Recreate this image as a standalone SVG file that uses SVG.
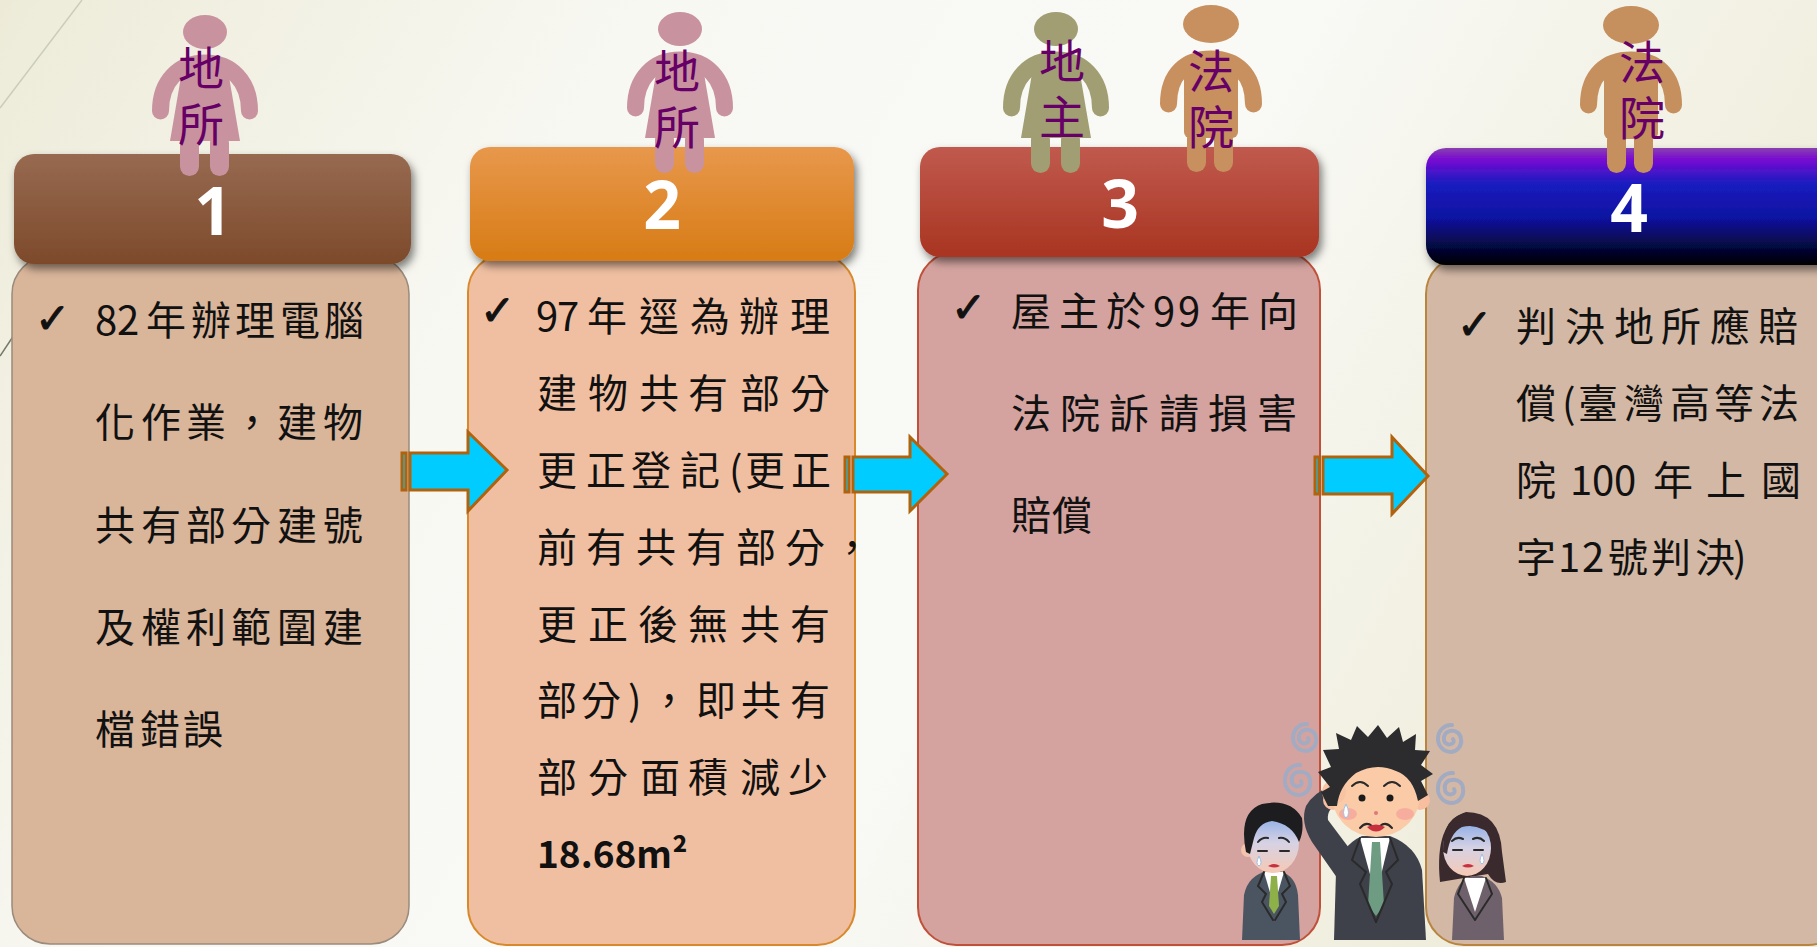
<svg xmlns="http://www.w3.org/2000/svg" width="1817" height="947" viewBox="0 0 1817 947">
  <defs>
    <linearGradient id="bg" x1="0" y1="0" x2="1" y2="0.3">
      <stop offset="0" stop-color="#EDEBD8"/>
      <stop offset="0.33" stop-color="#F8F8F3"/>
      <stop offset="0.66" stop-color="#F9F9F6"/>
      <stop offset="1" stop-color="#EFEDDB"/>
    </linearGradient>
    <linearGradient id="h1" x1="0" y1="0" x2="0" y2="1">
      <stop offset="0" stop-color="#976A51"/>
      <stop offset="1" stop-color="#7D4A2B"/>
    </linearGradient>
    <linearGradient id="h2" x1="0" y1="0" x2="0" y2="1">
      <stop offset="0" stop-color="#E8984C"/>
      <stop offset="1" stop-color="#D77B15"/>
    </linearGradient>
    <linearGradient id="h3" x1="0" y1="0" x2="0" y2="1">
      <stop offset="0" stop-color="#C05A4E"/>
      <stop offset="1" stop-color="#A93421"/>
    </linearGradient>
    <linearGradient id="h4" x1="0" y1="0" x2="0" y2="1">
      <stop offset="0" stop-color="#8A40B0"/>
      <stop offset="0.1" stop-color="#780AD2"/>
      <stop offset="0.3" stop-color="#1A1CC0"/>
      <stop offset="0.6" stop-color="#0E12A0"/>
      <stop offset="1" stop-color="#000000"/>
    </linearGradient>
    <linearGradient id="paleface" x1="0" y1="0" x2="0" y2="1">
      <stop offset="0" stop-color="#86A9E6"/>
      <stop offset="0.5" stop-color="#D6D2E4"/>
      <stop offset="1" stop-color="#F6C9B4"/>
    </linearGradient>
    <filter id="hshadow" x="-5%" y="-10%" width="115%" height="135%">
      <feDropShadow dx="3" dy="5" stdDeviation="4" flood-color="#000" flood-opacity="0.5"/>
    </filter>
    <!-- pictogram of a woman, origin at top-centre of the head -->
    <g id="woman">
      <ellipse cx="0" cy="17" rx="22" ry="17" fill="currentColor"/>
      <path d="M -44.5 96 C -44.5 66 -26 48 0 48 C 26 48 44.5 66 44.5 96" fill="none" stroke="currentColor" stroke-width="17" stroke-linecap="round"/>
      <path d="M -22 50 L 22 50 L 35 126 L -35 126 Z" fill="currentColor"/>
      <rect x="-25" y="118" width="19" height="43" rx="9.5" fill="currentColor"/>
      <rect x="5" y="118" width="19" height="43" rx="9.5" fill="currentColor"/>
    </g>
    <!-- pictogram of a man, origin at top-centre of the head -->
    <g id="man">
      <ellipse cx="0" cy="20" rx="28" ry="19" fill="currentColor"/>
      <path d="M -42.5 100 C -42.5 70 -25 55 0 55 C 25 55 42.5 70 42.5 100" fill="none" stroke="currentColor" stroke-width="17" stroke-linecap="round"/>
      <rect x="-27" y="52" width="54" height="82" rx="6" fill="currentColor"/>
      <rect x="-24" y="125" width="19" height="43" rx="9.5" fill="currentColor"/>
      <rect x="3" y="125" width="19" height="43" rx="9.5" fill="currentColor"/>
    </g>
  </defs>
  <style>
    .num { font-family: "Open Sans", "Liberation Sans", sans-serif; font-weight: 700; font-size: 66px; fill: #FFFFFF; text-anchor: middle; }
    .who { font-family: "Noto Sans CJK TC", "Noto Sans CJK SC", sans-serif; font-size: 46px; fill: #660066; writing-mode: vertical-rl; letter-spacing: 10px; }
    .bt { font-family: "Noto Sans CJK TC", "Noto Sans CJK SC", sans-serif; font-size: 40px; fill: #111111; }
    .tick { font-family: "DejaVu Sans", sans-serif; font-weight: 700; font-size: 42px; fill: #111111; stroke: #111111; stroke-width: 1; }
    .head { filter: url(#hshadow); }
    .arrow { fill: #00CCFF; stroke: #B0620C; stroke-width: 3; }
    .swirl { fill: none; stroke: #A3ABC3; stroke-width: 4; stroke-linecap: round; }
    .ink { fill: none; stroke: #2A2A2A; stroke-width: 2; stroke-linecap: round; }
  </style>

  <!-- background -->
  <rect x="0" y="0" width="1817" height="947" fill="url(#bg)"/>
  <line x1="0" y1="108" x2="82" y2="0" stroke="#CACDBA" stroke-width="1.5"/>
  <line x1="0" y1="356" x2="16" y2="332" stroke="#737A66" stroke-width="1.5"/>

  <!-- step 1 -->
  <g id="step1">
    <rect x="12" y="256" width="397" height="688" rx="38" fill="#D9B59A" stroke="#9A8B7C" stroke-width="1.5"/>
    <rect class="head" x="14" y="154" width="397" height="110" rx="20" fill="url(#h1)"/>
    <text class="num" x="213" y="235">1</text>
    <use href="#woman" x="205" y="15" style="color:#C8939F"/>
    <text class="who" x="201" y="45">地所</text>
    <text class="tick" x="35" y="333">✓</text>
    <text class="bt" x="95 117 146 191 235 280 324" y="335">82年辦理電腦</text>
    <text class="bt" x="95 141 186 232 277 323" y="437">化作業，建物</text>
    <text class="bt" x="95 141 186 231 277 323" y="540">共有部分建號</text>
    <text class="bt" x="95 141 186 231 277 323" y="642">及權利範圍建</text>
    <text class="bt" x="95 140 183" y="744">檔錯誤</text>
  </g>

  <!-- step 2 -->
  <g id="step2">
    <rect x="468" y="254" width="387" height="691" rx="38" fill="#F0BFA1" stroke="#D8892C" stroke-width="2"/>
    <rect class="head" x="470" y="147" width="384" height="114" rx="20" fill="url(#h2)"/>
    <text class="num" x="662" y="229">2</text>
    <use href="#woman" x="680" y="12" style="color:#C8939F"/>
    <text class="who" x="677" y="48">地所</text>
    <text class="tick" x="480" y="325">✓</text>
    <text class="bt" x="536 557 587 639 690 739 790" y="331">97年逕為辦理</text>
    <text class="bt" x="537 588 639 688 740 790" y="408">建物共有部分</text>
    <text class="bt" x="537 586 631 680 729 745 791" y="485">更正登記(更正</text>
    <text class="bt" x="537 586 636 686 736 785 832" y="562">前有共有部分，</text>
    <text class="bt" x="537 588 638 688 740 790" y="639">更正後無共有</text>
    <text class="bt" x="537 581 628 649 696 741 790" y="715">部分)，即共有</text>
    <text class="bt" x="537 588 640 688 740 788" y="792">部分面積減少</text>
    <text class="bt" x="537" y="868" style="font-size:37px;font-weight:700">18.68m²</text>
  </g>

  <!-- step 3 -->
  <g id="step3">
    <rect x="918" y="252" width="402" height="693" rx="38" fill="#D4A39F" stroke="#C0503A" stroke-width="2"/>
    <rect class="head" x="920" y="147" width="399" height="110" rx="20" fill="url(#h3)"/>
    <text class="num" x="1120" y="228">3</text>
    <use href="#woman" x="1056" y="12" style="color:#A09E72"/>
    <use href="#man" x="1211" y="4" style="color:#C8905E"/>
    <text class="who" x="1062" y="38">地主</text>
    <text class="who" x="1211" y="48">法院</text>
    <text class="tick" x="951" y="322">✓</text>
    <text class="bt" x="1011 1059 1106 1153 1178 1210 1258" y="326">屋主於99年向</text>
    <text class="bt" x="1011 1060 1109 1159 1208 1257" y="428">法院訴請損害</text>
    <text class="bt" x="1011 1052" y="530">賠償</text>
  </g>

  <!-- step 4 -->
  <g id="step4">
    <rect x="1426" y="256" width="420" height="689" rx="38" fill="#D3B8A5" stroke="#B8843E" stroke-width="2"/>
    <rect class="head" x="1426" y="148" width="420" height="117" rx="20" fill="url(#h4)"/>
    <text class="num" x="1629" y="232">4</text>
    <use href="#man" x="1631" y="5" style="color:#C58F5E"/>
    <text class="who" x="1642" y="39">法院</text>
    <text class="tick" x="1457" y="339">✓</text>
    <text class="bt" x="1516 1565 1614 1661 1710 1758" y="341">判決地所應賠</text>
    <text class="bt" x="1516 1562 1578 1624 1670 1714 1759" y="418">償(臺灣高等法</text>
    <text class="bt" x="1516 1570 1592 1614 1653 1706 1761" y="495">院100年上國</text>
    <text class="bt" x="1516 1558 1582 1608 1651 1695 1733" y="572">字12號判決)</text>
  </g>

  <!-- connectors: striped block arrows -->
  <g id="connectors">
    <rect class="arrow" x="402" y="453" width="4" height="37"/>
    <path class="arrow" d="M 410 453 L 468 453 L 468 432 L 507 470 L 468 511 L 468 490 L 410 490 Z"/>
    <rect class="arrow" x="845" y="457" width="4" height="35"/>
    <path class="arrow" d="M 853 457 L 910 457 L 910 437 L 947 474 L 910 511 L 910 492 L 853 492 Z"/>
    <rect class="arrow" x="1315" y="457" width="4" height="37"/>
    <path class="arrow" d="M 1323 457 L 1392 457 L 1392 437 L 1428 476 L 1392 514 L 1392 494 L 1323 494 Z"/>
  </g>

  <!-- worried office workers -->
  <g id="workers">
    <!-- swirls -->
    <path class="swirl" d="M 1307 724 A 13 14 0 0 0 1293 738 A 13 13 0 0 0 1306 751 A 11 11 0 0 0 1316 738 A 9 9 0 0 0 1305 730 A 7 7 0 0 0 1299 738 A 5 5 0 0 0 1306 743 A 3 3 0 0 0 1308 738"/>
    <path class="swirl" d="M 1300 765 A 14 15 0 0 0 1285 780 A 14 14 0 0 0 1299 795 A 12 12 0 0 0 1310 781 A 9 9 0 0 0 1299 772 A 7 7 0 0 0 1292 781 A 5 5 0 0 0 1299 786 A 3 3 0 0 0 1301 781"/>
    <path class="swirl" d="M 1452 725 A 13 14 0 0 0 1438 739 A 13 13 0 0 0 1451 752 A 11 11 0 0 0 1461 739 A 9 9 0 0 0 1450 731 A 7 7 0 0 0 1444 739 A 5 5 0 0 0 1451 744 A 3 3 0 0 0 1453 739"/>
    <path class="swirl" d="M 1453 773 A 14 15 0 0 0 1438 788 A 14 14 0 0 0 1452 803 A 12 12 0 0 0 1463 789 A 9 9 0 0 0 1452 780 A 7 7 0 0 0 1445 789 A 5 5 0 0 0 1452 794 A 3 3 0 0 0 1454 789"/>

    <!-- left man -->
    <path d="M 1242 940 L 1244 895 Q 1248 875 1268 871 L 1280 871 Q 1296 876 1298 895 L 1300 940 Z" fill="#4B5562"/>
    <path d="M 1264 872 L 1284 872 L 1274 906 Z" fill="#FFFFFF"/>
    <path d="M 1271 876 L 1277 876 L 1279 906 L 1274 914 L 1269 906 Z" fill="#8DB148"/>
    <path d="M 1264 872 L 1258 886 L 1266 894 L 1262 902 L 1273 920" class="ink" stroke="#343A44"/>
    <path d="M 1284 872 L 1290 886 L 1282 894 L 1286 902 L 1275 920" class="ink" stroke="#343A44"/>
    <circle cx="1248" cy="850" r="7" fill="#F3C3AE"/>
    <ellipse cx="1273" cy="843" rx="26" ry="30" fill="url(#paleface)"/>
    <path d="M 1246 852 Q 1238 812 1262 804 Q 1290 798 1302 818 Q 1304 832 1299 842 Q 1292 824 1272 821 Q 1258 823 1254 838 L 1250 854 Z" fill="#1D1D1F"/>
    <path d="M 1258 842 Q 1262 837 1268 838 M 1279 838 Q 1285 837 1289 842" class="ink"/>
    <path d="M 1258 851 L 1267 851 M 1280 851 L 1289 851" class="ink"/>
    <path d="M 1268 866 Q 1274 862 1280 866 Q 1274 869 1268 866 Z" fill="#C8303E"/>
    <path d="M 1259 856 Q 1255 864 1259 866 Q 1263 864 1259 856 Z" fill="#FFFFFF" stroke="#9CC0E8" stroke-width="1"/>

    <!-- centre man -->
    <path d="M 1334 940 L 1336 872 Q 1340 846 1362 836 L 1390 836 Q 1416 846 1422 870 L 1426 940 Z" fill="#3E4149"/>
    <path d="M 1340 882 L 1312 842 Q 1300 822 1306 806 Q 1314 792 1332 786 L 1342 802 Q 1326 808 1328 820 L 1352 852 Z" fill="#3E4149"/>
    <path d="M 1360 838 L 1390 838 L 1376 896 Z" fill="#FFFFFF"/>
    <path d="M 1372 842 L 1380 842 L 1384 905 L 1376 916 L 1368 905 Z" fill="#6E9C82"/>
    <path d="M 1360 838 L 1352 860 L 1366 872 L 1360 884 L 1376 922" class="ink" stroke="#2A2C31"/>
    <path d="M 1390 838 L 1398 860 L 1386 872 L 1392 884 L 1376 922" class="ink" stroke="#2A2C31"/>
    <circle cx="1333" cy="800" r="10" fill="#F7BFA0"/>
    <circle cx="1420" cy="800" r="10" fill="#F7BFA0"/>
    <ellipse cx="1376" cy="795" rx="44" ry="42" fill="#FACBA6"/>
    <circle cx="1334" cy="792" r="12" fill="#F7C3A2"/>
    <path d="M 1328 806 L 1321 792 L 1330 787 L 1318 772 L 1331 767 L 1323 750 L 1339 749 L 1336 733 L 1351 740 L 1357 726 L 1368 737 L 1378 725 L 1387 738 L 1399 727 L 1403 742 L 1416 734 L 1415 750 L 1430 751 L 1421 765 L 1433 774 L 1421 781 L 1428 795 L 1418 801 Q 1413 777 1396 771 Q 1376 762 1356 773 Q 1339 786 1337 806 Z" fill="#2C2C2E"/>
    <ellipse cx="1348" cy="814" rx="9" ry="6" fill="#F59A9A" opacity="0.6"/>
    <ellipse cx="1405" cy="814" rx="9" ry="6" fill="#F59A9A" opacity="0.6"/>
    <path d="M 1352 786 Q 1360 778 1368 786 M 1384 786 Q 1392 778 1400 786" class="ink" stroke="#3A2A20" stroke-width="2.5"/>
    <circle cx="1362" cy="798" r="3.5" fill="#1A1A1A"/>
    <circle cx="1390" cy="798" r="3.5" fill="#1A1A1A"/>
    <circle cx="1376" cy="813" r="2" fill="#E07878"/>
    <path d="M 1360 828 Q 1366 821 1372 826 M 1380 826 Q 1386 821 1392 828" class="ink" stroke="#A07850" stroke-width="3"/>
    <path d="M 1367 827 Q 1376 822 1385 827 Q 1376 836 1367 827 Z" fill="#C8303E"/>
    <path d="M 1346 804 Q 1341 814 1346 818 Q 1351 814 1346 804 Z" fill="#FFFFFF" stroke="#9CC0E8" stroke-width="1"/>

    <!-- right woman -->
    <path d="M 1440 882 Q 1434 822 1466 812 Q 1500 812 1502 852 L 1506 882 Q 1495 886 1488 874 Z" fill="#3A2A2E"/>
    <path d="M 1452 940 L 1454 898 Q 1458 880 1472 876 L 1482 876 Q 1498 882 1502 898 L 1504 940 Z" fill="#6F616B"/>
    <path d="M 1464 878 L 1486 878 L 1475 912 Z" fill="#FFFFFF"/>
    <path d="M 1464 878 L 1458 894 L 1475 920 M 1486 878 L 1492 894 L 1475 920" class="ink" stroke="#4E434B"/>
    <ellipse cx="1467" cy="848" rx="24" ry="28" fill="url(#paleface)"/>
    <path d="M 1443 852 Q 1442 815 1468 813 Q 1493 815 1496 840 Q 1480 822 1462 827 Q 1450 833 1447 854 Z" fill="#3A2A2E"/>
    <path d="M 1452 841 Q 1457 836 1463 839 M 1473 839 Q 1479 836 1484 841" class="ink" stroke="#8A6030"/>
    <path d="M 1453 850 L 1462 850 M 1474 850 L 1483 850" class="ink"/>
    <path d="M 1462 866 Q 1468 862 1474 866 Q 1468 869 1462 866 Z" fill="#C8303E"/>
    <path d="M 1482 854 Q 1478 862 1482 864 Q 1486 862 1482 854 Z" fill="#FFFFFF" stroke="#9CC0E8" stroke-width="1"/>
  </g>
</svg>
